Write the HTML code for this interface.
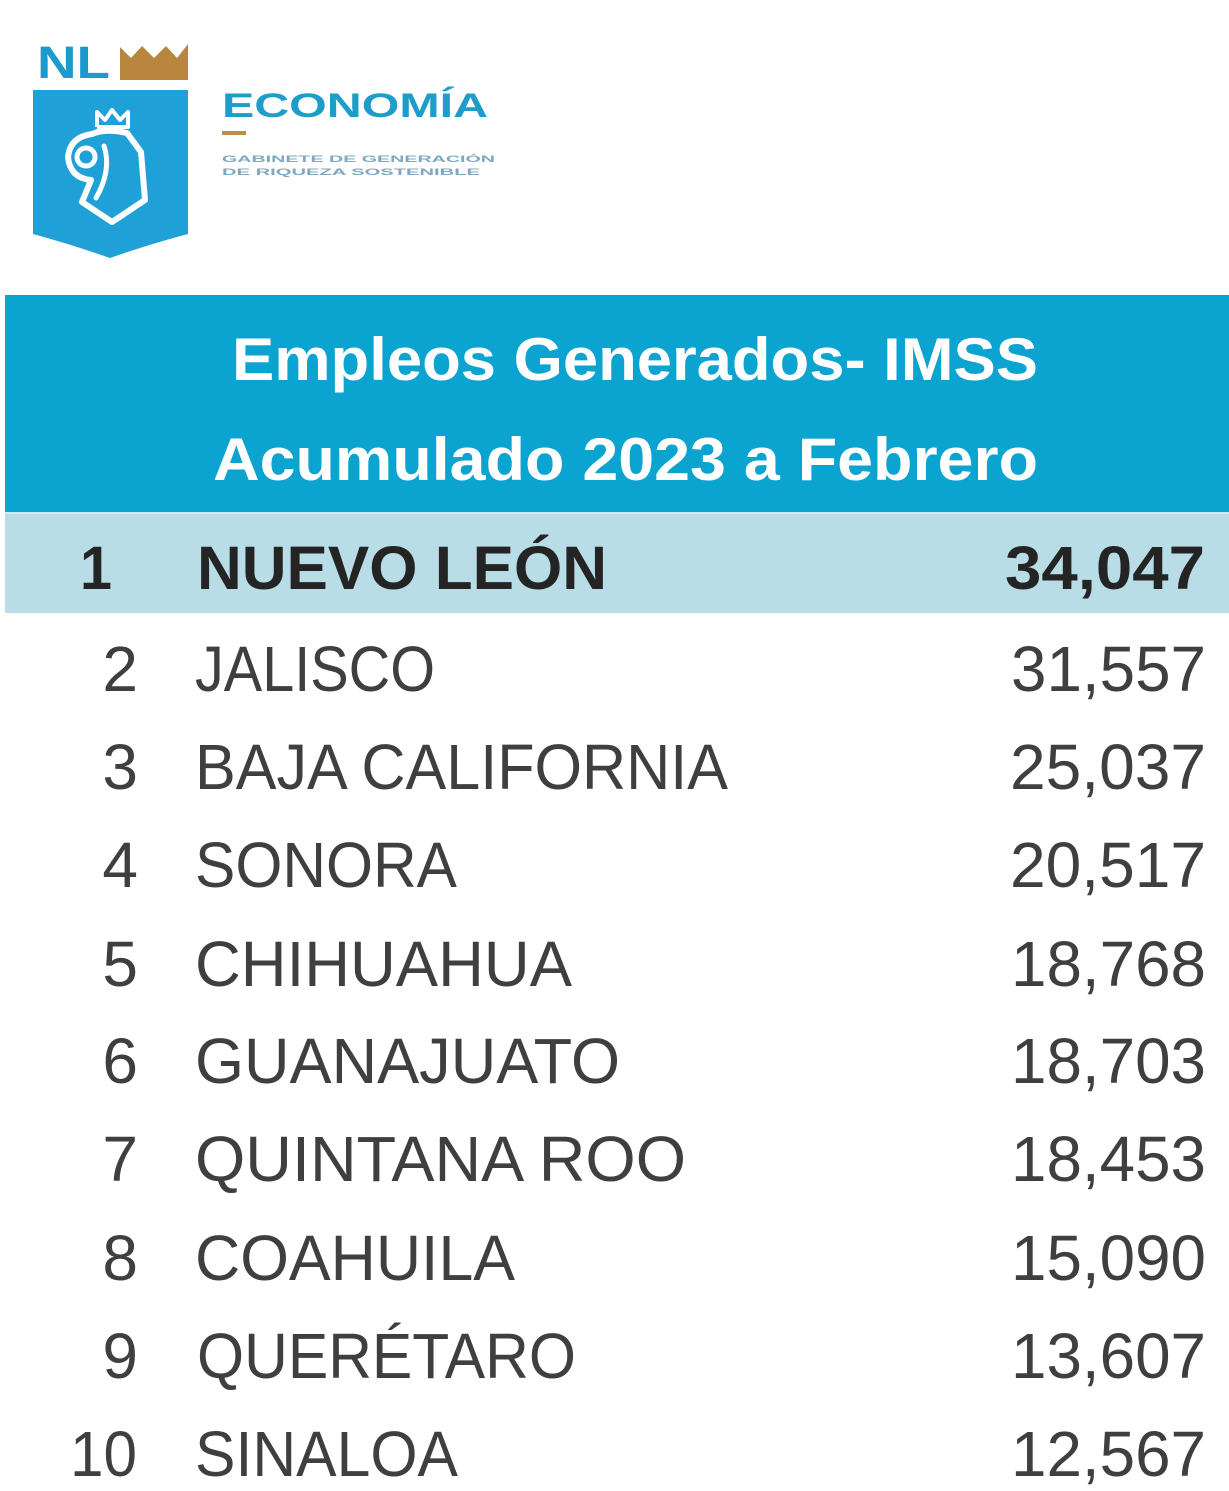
<!DOCTYPE html>
<html>
<head>
<meta charset="utf-8">
<style>
  html, body { margin:0; padding:0; background:#ffffff; }
  body { width:1229px; height:1491px; overflow:hidden; }
  svg { display:block; }
  .hdr { font-family:"Liberation Sans", sans-serif; font-weight:bold; fill:#ffffff; font-size:60px; }
  .reg { font-family:"Liberation Sans", sans-serif; fill:#3f3f3f; font-size:64px; }
  .bld { font-family:"Liberation Sans", sans-serif; font-weight:bold; fill:#242424; font-size:61px; }
</style>
</head>
<body>
<svg width="1229" height="1491" viewBox="0 0 1229 1491" xmlns="http://www.w3.org/2000/svg">
  <rect x="0" y="0" width="1229" height="1491" fill="#ffffff"/>

  <!-- Logo -->
  <text x="37" y="78" font-family="Liberation Sans, sans-serif" font-weight="bold" font-size="45" fill="#1a9bcb" textLength="73" lengthAdjust="spacingAndGlyphs">NL</text>
  <polygon points="120,80 120,47 131,58 142,46 154,58 166,46 177,58 188,44 188,80" fill="#b8863e"/>
  <path d="M33 90 L188 90 L188 234 Q150 244 110 258 Q70 244 33 234 Z" fill="#1fa1d7"/>
  <!-- emblem -->
  <polyline points="97,127 97,112 105,120 112,110 120,120 128,112 128,127 97,127" fill="none" stroke="#ffffff" stroke-width="4" stroke-linejoin="round"/>
  <path d="M92 134 Q105 128 127 133 L141 152 L145 200 L112 222 L82 202 L91 180 Q70 178 68 157 Q70 137 92 134 Z" fill="none" stroke="#ffffff" stroke-width="6" stroke-linejoin="round"/>
  <circle cx="86" cy="157" r="9" fill="none" stroke="#ffffff" stroke-width="5"/>
  <path d="M104 146 Q112 170 96 198" fill="none" stroke="#ffffff" stroke-width="5" stroke-linecap="round"/>

  <text x="222" y="117" font-family="Liberation Sans, sans-serif" font-weight="bold" font-size="34" fill="#1e9dcb" textLength="266" lengthAdjust="spacingAndGlyphs">ECONOMÍA</text>
  <rect x="222" y="131" width="24" height="4" fill="#b8904a"/>
  <text x="222" y="162" font-family="Liberation Sans, sans-serif" font-weight="bold" font-size="9" fill="#7fa8c2" textLength="273" lengthAdjust="spacingAndGlyphs">GABINETE DE GENERACIÓN</text>
  <text x="222" y="175" font-family="Liberation Sans, sans-serif" font-weight="bold" font-size="9" fill="#7fa8c2" textLength="258" lengthAdjust="spacingAndGlyphs">DE RIQUEZA SOSTENIBLE</text>

  <!-- Header band -->
  <rect x="5" y="295" width="1224" height="217" fill="#0ba4d1"/>
  <text class="hdr" x="232" y="380" textLength="806" lengthAdjust="spacingAndGlyphs">Empleos Generados- IMSS</text>
  <text class="hdr" x="213" y="480" textLength="825" lengthAdjust="spacingAndGlyphs">Acumulado 2023 a Febrero</text>

  <!-- Highlight row -->
  <rect x="5" y="512" width="1224" height="2" fill="#cfeaf2"/>
  <rect x="5" y="514" width="1224" height="99" fill="#b9dde6"/>
  <text class="bld" x="80" y="589" textLength="32" lengthAdjust="spacingAndGlyphs">1</text>
  <text class="bld" x="197" y="589" textLength="410" lengthAdjust="spacingAndGlyphs">NUEVO LEÓN</text>
  <text class="bld" x="1005" y="589" textLength="200" lengthAdjust="spacingAndGlyphs">34,047</text>

  <!-- Rows -->
  <text class="reg" x="138" y="691" text-anchor="end">2</text>
  <text class="reg" x="195" y="691" textLength="240" lengthAdjust="spacingAndGlyphs">JALISCO</text>
  <text class="reg" x="1011" y="691" textLength="195" lengthAdjust="spacingAndGlyphs">31,557</text>

  <text class="reg" x="138" y="789" text-anchor="end">3</text>
  <text class="reg" x="195" y="789" textLength="533" lengthAdjust="spacingAndGlyphs">BAJA CALIFORNIA</text>
  <text class="reg" x="1010" y="789" textLength="196" lengthAdjust="spacingAndGlyphs">25,037</text>

  <text class="reg" x="138" y="887" text-anchor="end">4</text>
  <text class="reg" x="195" y="887" textLength="262" lengthAdjust="spacingAndGlyphs">SONORA</text>
  <text class="reg" x="1010" y="887" textLength="196" lengthAdjust="spacingAndGlyphs">20,517</text>

  <text class="reg" x="138" y="986" text-anchor="end">5</text>
  <text class="reg" x="195" y="986" textLength="377" lengthAdjust="spacingAndGlyphs">CHIHUAHUA</text>
  <text class="reg" x="1011" y="986" textLength="195" lengthAdjust="spacingAndGlyphs">18,768</text>

  <text class="reg" x="138" y="1083" text-anchor="end">6</text>
  <text class="reg" x="195" y="1083" textLength="425" lengthAdjust="spacingAndGlyphs">GUANAJUATO</text>
  <text class="reg" x="1011" y="1083" textLength="195" lengthAdjust="spacingAndGlyphs">18,703</text>

  <text class="reg" x="138" y="1181" text-anchor="end">7</text>
  <text class="reg" x="195" y="1181" textLength="491" lengthAdjust="spacingAndGlyphs">QUINTANA ROO</text>
  <text class="reg" x="1011" y="1181" textLength="195" lengthAdjust="spacingAndGlyphs">18,453</text>

  <text class="reg" x="138" y="1280" text-anchor="end">8</text>
  <text class="reg" x="195" y="1280" textLength="320" lengthAdjust="spacingAndGlyphs">COAHUILA</text>
  <text class="reg" x="1011" y="1280" textLength="195" lengthAdjust="spacingAndGlyphs">15,090</text>

  <text class="reg" x="138" y="1378" text-anchor="end">9</text>
  <text class="reg" x="197" y="1378" textLength="379" lengthAdjust="spacingAndGlyphs">QUERÉTARO</text>
  <text class="reg" x="1011" y="1378" textLength="195" lengthAdjust="spacingAndGlyphs">13,607</text>

  <text class="reg" x="70" y="1476" textLength="67" lengthAdjust="spacingAndGlyphs">10</text>
  <text class="reg" x="195" y="1476" textLength="263" lengthAdjust="spacingAndGlyphs">SINALOA</text>
  <text class="reg" x="1011" y="1476" textLength="195" lengthAdjust="spacingAndGlyphs">12,567</text>
</svg>
</body>
</html>
